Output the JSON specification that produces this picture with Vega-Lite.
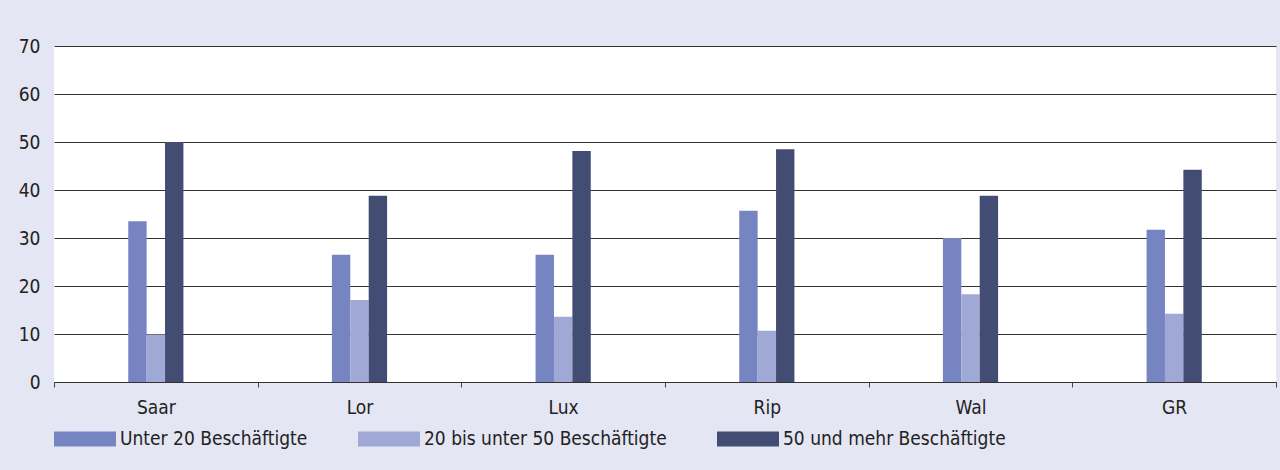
{
  "$schema": "https://vega.github.io/schema/vega-lite/v6.json",
  "autosize": {"type": "none"},
  "width": 1222,
  "height": 336,
  "padding": {"left": 54, "top": 46, "right": 4, "bottom": 88},
  "background": "#E4E6F3",
  "config": {
    "font": "DejaVu Sans Condensed, Roboto, sans-serif",
    "view": {"fill": "white", "stroke": null},
    "axis": {"labelFont": "DejaVu Sans Condensed, Roboto, sans-serif", "labelFontSize": 19, "labelColor": "#222222"},
    "legend": {"labelFont": "DejaVu Sans Condensed, Roboto, sans-serif", "labelFontSize": 19, "labelColor": "#222222"}
  },
  "data": {
    "values": [
      {"region": "Saar", "groesse": "Unter 20 Beschäftigte", "wert": 33.5},
      {"region": "Saar", "groesse": "20 bis unter 50 Beschäftigte", "wert": 9.9},
      {"region": "Saar", "groesse": "50 und mehr Beschäftigte", "wert": 50.0},
      {"region": "Lor", "groesse": "Unter 20 Beschäftigte", "wert": 26.5},
      {"region": "Lor", "groesse": "20 bis unter 50 Beschäftigte", "wert": 17.1},
      {"region": "Lor", "groesse": "50 und mehr Beschäftigte", "wert": 38.8},
      {"region": "Lux", "groesse": "Unter 20 Beschäftigte", "wert": 26.5},
      {"region": "Lux", "groesse": "20 bis unter 50 Beschäftigte", "wert": 13.6},
      {"region": "Lux", "groesse": "50 und mehr Beschäftigte", "wert": 48.1},
      {"region": "Rip", "groesse": "Unter 20 Beschäftigte", "wert": 35.7},
      {"region": "Rip", "groesse": "20 bis unter 50 Beschäftigte", "wert": 10.7},
      {"region": "Rip", "groesse": "50 und mehr Beschäftigte", "wert": 48.5},
      {"region": "Wal", "groesse": "Unter 20 Beschäftigte", "wert": 30.0},
      {"region": "Wal", "groesse": "20 bis unter 50 Beschäftigte", "wert": 18.3},
      {"region": "Wal", "groesse": "50 und mehr Beschäftigte", "wert": 38.8},
      {"region": "GR", "groesse": "Unter 20 Beschäftigte", "wert": 31.7},
      {"region": "GR", "groesse": "20 bis unter 50 Beschäftigte", "wert": 14.2},
      {"region": "GR", "groesse": "50 und mehr Beschäftigte", "wert": 44.2}
    ]
  },
  "layer": [
    {
      "mark": {"type": "rule", "opacity": 0},
      "encoding": {
        "x": {
          "field": "region",
          "type": "nominal",
          "sort": ["Saar", "Lor", "Lux", "Rip", "Wal", "GR"],
          "scale": {"paddingInner": 0, "paddingOuter": 0},
          "axis": {
            "title": null,
            "labelAngle": 0,
            "tickBand": "extent",
            "tickSize": 5,
            "tickColor": "#444444",
            "domainColor": "#333333",
            "labelPadding": 11,
            "grid": false
          }
        }
      }
    },
    {
      "mark": {"type": "bar", "strokeWidth": 0},
      "encoding": {
        "x": {
          "field": "region",
          "type": "nominal",
          "sort": ["Saar", "Lor", "Lux", "Rip", "Wal", "GR"],
          "scale": {"paddingInner": 0.729, "paddingOuter": 0.3645},
          "axis": null
        },
        "xOffset": {
          "field": "groesse",
          "type": "nominal",
          "sort": ["Unter 20 Beschäftigte", "20 bis unter 50 Beschäftigte", "50 und mehr Beschäftigte"],
          "scale": {"paddingInner": 0, "paddingOuter": 0}
        },
        "y": {
          "field": "wert",
          "type": "quantitative",
          "scale": {"domain": [0, 70], "nice": false},
          "axis": {
            "title": null,
            "values": [0, 10, 20, 30, 40, 50, 60, 70],
            "grid": true,
            "gridColor": "#333333",
            "gridWidth": 1,
            "gridOpacity": 1,
            "domain": false,
            "ticks": false,
            "labelPadding": 14
          }
        },
        "color": {
          "field": "groesse",
          "type": "nominal",
          "sort": ["Unter 20 Beschäftigte", "20 bis unter 50 Beschäftigte", "50 und mehr Beschäftigte"],
          "scale": {
            "domain": ["Unter 20 Beschäftigte", "20 bis unter 50 Beschäftigte", "50 und mehr Beschäftigte"],
            "range": ["#7685C2", "#A0A8D6", "#434D73"]
          },
          "legend": {
            "title": null,
            "orient": "none",
            "direction": "horizontal",
            "legendX": 0,
            "legendY": 362,
            "symbolType": "M-1,-0.242H1V0.242H-1Z",
            "symbolSize": 3844,
            "symbolStrokeWidth": 0,
            "labelOffset": 4,
            "labelLimit": 0,
            "columnPadding": 50
          }
        }
      }
    }
  ],
  "resolve": {"scale": {"x": "independent"}}
}
